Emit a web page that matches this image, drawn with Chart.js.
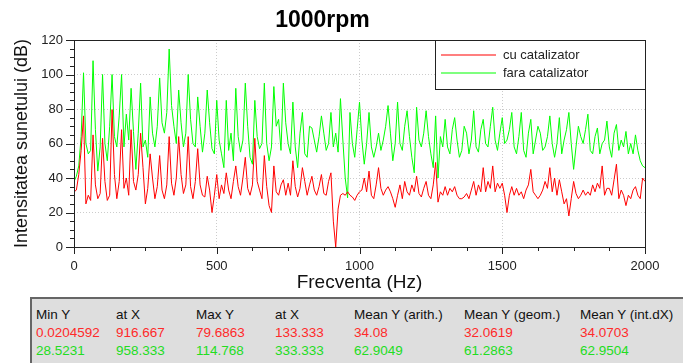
<!DOCTYPE html>
<html>
<head>
<meta charset="utf-8">
<script src="https://cdn.jsdelivr.net/npm/chart.js@4.4.1/dist/chart.umd.min.js"></script>
<style>
  body { margin: 0; width: 683px; height: 363px; overflow: hidden; background: #fff;
         font-family: Arial, "Liberation Sans", sans-serif; }
  #wrap { position: absolute; left: 0; top: 0; width: 683px; height: 292px; }
  #stats { position: absolute; left: 30px; top: 297px; width: 670px; height: 72px;
           background: #dedede; border: 2px solid #666; box-sizing: border-box; }
  #stats table { border-collapse: collapse; table-layout: fixed; margin: 7px 0 0 4px; font-size: 13.5px; }
  #stats td { padding: 0; height: 18px; line-height: 18px; white-space: nowrap; color: #111; }
  #stats tr.r td { color: #ff2a2a; }
  #stats tr.g td { color: #22dd22; }
</style>
</head>
<body>
<div id="wrap"><canvas id="myChart" width="683" height="292"></canvas></div>
<div id="stats">
  <table>
    <colgroup><col style="width:80px"><col style="width:80px"><col style="width:79px"><col style="width:79px"><col style="width:110px"><col style="width:116px"><col style="width:100px"></colgroup>
    <tr><td>Min Y</td><td>at X</td><td>Max Y</td><td>at X</td><td>Mean Y (arith.)</td><td>Mean Y (geom.)</td><td>Mean Y (int.dX)</td></tr>
    <tr class="r"><td>0.0204592</td><td>916.667</td><td>79.6863</td><td>133.333</td><td>34.08</td><td>32.0619</td><td>34.0703</td></tr>
    <tr class="g"><td>28.5231</td><td>958.333</td><td>114.768</td><td>333.333</td><td>62.9049</td><td>61.2863</td><td>62.9504</td></tr>
  </table>
</div>
<script>
// spectrum sampled every 2000/240 Hz, 241 points per series
const STEP_HZ = 2000 / 240;

const seriesNames = ['cu catalizator', 'fara catalizator'];
const seriesColors = ['#ff0000', '#00ff00'];

const cuCatalizator = [32,
  33,42,56,76, 25,30,27,65, 36,28,31,63, 38,27,30,79.6863, 42,28,38,68, 34,40,30,68,
  38,33,42,66, 46,25,34,54, 40,28,35,53, 33,28,36,64, 37,30,40,64, 42,31,36,64,
  35,28,38,57, 36,30,29,41, 33,20,30,42, 28,36,31,43, 33,28,38,47, 35,30,40,52,
  34,30,36,63, 38,33,28,53, 35,24,20,47, 32,30,36,39, 30,37,30,50, 35,29,34,46,
  38,30,36,41, 33,30,35,42, 31,30,38,43, 15,0.0204592,22,30, 31,30,32,30, 29,27,30,32,
  33,40,32,44, 30,28,36,46, 34,30,33,35, 32,28,23,30, 36,28,38,32, 30,36,32,41,
  31,29,34,38, 30,28,36,49, 26,32,30,35, 30,34,32,35, 30,28,28,29, 31,28,33,38,
  30,36,32,46, 32,38,34,47, 32,37,34,37, 30,20,30,35, 30,34,30,32, 28,33,36,45,
  32,30,28,30, 33,38,34,46, 32,40,30,39, 32,25,28,18, 28,38,31,28, 30,33,30,32,
  30,36,32,37, 34,47,30,34, 34,30,39,48, 28,33,30,24, 30,28,33,35, 30,28,40,38];

const faraCatalizator = [38,
  41,47,64,101, 60,54,56,108, 68,44,58,100, 60,50,70,100, 64,58,76,100, 58,77,62,92,
  67,45,66,95, 58,62,52,87, 66,58,70,98, 72,66,78,114.768, 82,70,60,91, 72,58,66,100,
  74,60,58,87, 70,55,66,91, 72,57,54,85, 62,54,46,85, 56,66,50,92, 64,55,62,95,
  70,52,48,85, 64,57,60,95, 60,50,58,93, 70,74,56,95, 72,60,54,84, 58,46,66,78,
  54,52,70,69, 62,55,64,76, 66,56,60,78, 58,66,55,86, 62,40,28.5231,78, 60,52,68,84,
  62,48,60,78, 58,52,58,66, 56,62,70,82, 66,50,60,84, 60,56,70,79, 64,52,43,81,
  62,58,66,79, 64,54,46,76, 40,64,58,74, 58,54,68,75, 62,52,56,70, 66,54,62,79,
  58,55,68,74, 60,58,70,81, 62,56,66,75, 60,62,68,78, 58,54,64,78, 56,52,66,74,
  54,62,70,66, 56,58,64,76, 60,52,60,75, 54,62,68,78, 60,45,58,70, 64,60,68,77,
  56,54,64,69, 54,60,62,73, 58,52,66,71, 56,62,58,67, 54,60,54,65, 56,50,47,46];

const xMajorTicks = [0, 500, 1000, 1500, 2000];
const yMajorTicks = [0, 20, 40, 60, 80, 100, 120];

const toPoints = arr => arr.map((v, i) => ({ x: i * STEP_HZ, y: v }));

Chart.defaults.font.family = 'Arial, "Liberation Sans", sans-serif';
Chart.defaults.color = '#222';

// frame, tick marks and the boxed legend
const framePlugin = {
  id: 'framePlugin',
  afterDatasetsDraw(chart) {
    const { ctx, chartArea: a, scales: { x, y } } = chart;
    ctx.save();
    ctx.strokeStyle = '#222';
    ctx.lineWidth = 1;
    ctx.beginPath();
    y.ticks.forEach(t => {
      const py = Math.round(y.getPixelForValue(t.value)) + 0.5;
      const len = yMajorTicks.includes(t.value) ? 8 : 4;
      ctx.moveTo(a.left - len, py);
      ctx.lineTo(a.left, py);
    });
    x.ticks.forEach(t => {
      const px = Math.round(x.getPixelForValue(t.value)) + 0.5;
      const len = xMajorTicks.includes(t.value) ? 7 : 4;
      ctx.moveTo(px, a.bottom);
      ctx.lineTo(px, a.bottom + len);
    });
    ctx.stroke();
    ctx.strokeRect(a.left + 0.5, a.top + 0.5, a.right - a.left, a.bottom - a.top);

    // legend box
    const lx = a.right - 210, ly = a.top, lw = 210, lh = 49;
    ctx.fillStyle = '#fff';
    ctx.fillRect(lx, ly, lw, lh);
    ctx.strokeStyle = '#222';
    ctx.strokeRect(lx + 0.5, ly + 0.5, lw, lh);
    ctx.font = '13px Arial, "Liberation Sans", sans-serif';
    ctx.textBaseline = 'middle';
    seriesNames.forEach((name, i) => {
      const yy = ly + 15 + i * 18;
      ctx.strokeStyle = seriesColors[i];
      ctx.lineWidth = 1.2;
      ctx.beginPath();
      ctx.moveTo(lx + 6, yy);
      ctx.lineTo(lx + 61, yy);
      ctx.stroke();
      ctx.fillStyle = '#222';
      ctx.fillText(name, lx + 68, yy);
    });
    ctx.restore();
  }
};

let myChart;

function drawChart() {
  const ctx = document.getElementById('myChart').getContext('2d');
  myChart = new Chart(ctx, {
    type: 'line',
    data: {
      datasets: [{
        label: seriesNames[0],
        data: toPoints(cuCatalizator),
        borderColor: seriesColors[0],
        borderWidth: 1,
        pointRadius: 0,
        fill: false
      }, {
        label: seriesNames[1],
        data: toPoints(faraCatalizator),
        borderColor: seriesColors[1],
        borderWidth: 1,
        pointRadius: 0,
        fill: false
      }]
    },
    options: {
      responsive: false,
      animation: false,
      devicePixelRatio: 1,
      layout: { padding: { left: 0, right: 38, top: 0, bottom: 0 } },
      plugins: {
        legend: { display: false },
        tooltip: { enabled: false },
        title: {
          display: true,
          text: '1000rpm',
          color: '#000',
          font: { size: 23, weight: 'bold' },
          padding: { top: 7, bottom: 5.4 }
        }
      },
      scales: {
        x: {
          type: 'linear',
          min: 0,
          max: 2000,
          afterFit: s => { s.height = 45; },
          border: { display: false, dash: [1, 2] },
          grid: {
            drawTicks: false,
            color: c => (c.tick && [500, 1000, 1500].includes(c.tick.value)) ? '#cccccc' : 'rgba(0,0,0,0)'
          },
          ticks: {
            stepSize: 125,
            autoSkip: false,
            maxRotation: 0,
            padding: 12,
            font: { size: 13 },
            callback: v => xMajorTicks.includes(v) ? String(v) : ''
          },
          title: {
            display: true,
            text: 'Frecventa (Hz)',
            color: '#111',
            font: { size: 19, lineHeight: 1 },
            padding: { top: 0, bottom: 0 }
          }
        },
        y: {
          min: 0,
          max: 120,
          afterFit: s => { s.width = 74; },
          border: { display: false, dash: [1, 2] },
          grid: {
            drawTicks: false,
            color: c => (c.tick && [20, 40, 60, 80, 100].includes(c.tick.value)) ? '#cccccc' : 'rgba(0,0,0,0)'
          },
          ticks: {
            stepSize: 5,
            autoSkip: false,
            padding: 11,
            font: { size: 13 },
            callback: v => yMajorTicks.includes(v) ? String(v) : ''
          },
          title: {
            display: true,
            text: 'Intensitatea sunetului (dB)',
            color: '#111',
            font: { size: 18, lineHeight: 1 },
            padding: { top: 13, bottom: 0 }
          }
        }
      }
    },
    plugins: [framePlugin]
  });
}

document.addEventListener('DOMContentLoaded', function() {
  drawChart();
});
</script>
</body>
</html>
